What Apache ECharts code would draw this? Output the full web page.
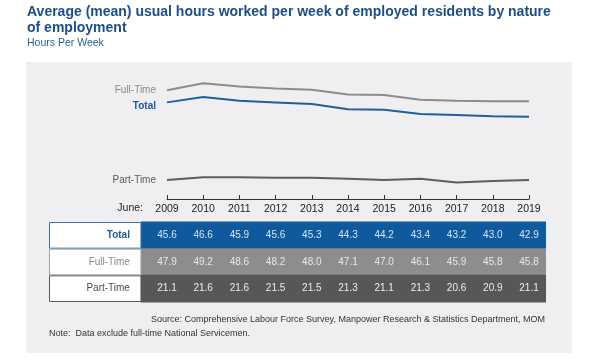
<!DOCTYPE html>
<html>
<head>
<meta charset="utf-8">
<script src="https://cdn.jsdelivr.net/npm/echarts@6/dist/echarts.min.js"></script>
<style>html,body{margin:0;padding:0;background:#fff;}#c{width:600px;height:360px;}</style>
</head>
<body>
<div id="c"></div>
<script>
const years = ['2009','2010','2011','2012','2013','2014','2015','2016','2017','2018','2019'];
const rowNames = ['Total','Full-Time','Part-Time'];
const totalHours = [45.6,46.6,45.9,45.6,45.3,44.3,44.2,43.4,43.2,43.0,42.9];
const fullTimeHours = [47.9,49.2,48.6,48.2,48.0,47.1,47.0,46.1,45.9,45.8,45.8];
const partTimeHours = [21.1,21.6,21.6,21.5,21.5,21.3,21.1,21.3,20.6,20.9,21.1];

const FONT = 'Liberation Sans';
const rowStyle = {
  'Total':     {bg:'#0f5a9c', txt:'#d3e4f4', border:'#3a74ad', label:'#1d5a96', weight:'bold'},
  'Full-Time': {bg:'#8d8d8d', txt:'#e8e8e8', border:'#a3a3a3', label:'#8a8a8a', weight:'normal'},
  'Part-Time': {bg:'#575757', txt:'#ececec', border:'#5a5a5a', label:'#4a4a4a', weight:'normal'}
};
const rowValues = [totalHours, fullTimeHours, partTimeHours];
const tableData = [];
rowValues.forEach((arr, r) => arr.forEach((v, i) => tableData.push([i, r, v])));

const chart = echarts.init(document.getElementById('c'));
chart.setOption({
  backgroundColor: '#ffffff',
  animation: false,
  textStyle: {fontFamily: FONT},
  title: [
    {text: 'Average (mean) usual hours worked per week of employed residents by nature\nof employment',
     left: 22, top: -1,
     textStyle: {fontFamily: FONT, fontSize: 14, fontWeight: 'bold', color: '#1c4f86', lineHeight: 16}},
    {text: 'Hours Per Week', left: 22, top: 33,
     textStyle: {fontFamily: FONT, fontSize: 10.5, fontWeight: 'normal', color: '#2b5f93'}}
  ],
  graphic: [
    {type: 'rect', z: -10, silent: true, shape: {x: 26, y: 62, width: 546, height: 291}, style: {fill: '#efeff1'}},
    {type: 'text', style: {text: 'Full-Time', x: 156, y: 90, align: 'right', verticalAlign: 'middle', fill: '#8a8a8a', font: '10px ' + FONT}},
    {type: 'text', style: {text: 'Total', x: 156, y: 106, align: 'right', verticalAlign: 'middle', fill: '#1d5a96', font: 'bold 10px ' + FONT}},
    {type: 'text', style: {text: 'Part-Time', x: 156, y: 180, align: 'right', verticalAlign: 'middle', fill: '#5a5a5a', font: '10px ' + FONT}},
    {type: 'text', style: {text: 'June:', x: 143, y: 208, align: 'right', verticalAlign: 'middle', fill: '#222', font: '10.5px ' + FONT}},
    {type: 'text', style: {text: 'Source: Comprehensive Labour Force Survey, Manpower Research & Statistics Department, MOM', x: 545, y: 320, align: 'right', verticalAlign: 'middle', fill: '#333', font: '9px ' + FONT}},
    {type: 'text', style: {text: 'Note:  Data exclude full-time National Servicemen.', x: 49, y: 334, align: 'left', verticalAlign: 'middle', fill: '#333', font: '9px ' + FONT}}
  ],
  grid: [
    {left: 167, right: 71, top: 70, bottom: 161},
    {left: 167, right: 71, top: 222, bottom: 58}
  ],
  xAxis: [
    {type: 'category', gridIndex: 0, data: years, boundaryGap: false,
     axisLine: {show: true, lineStyle: {color: '#333', width: 1}},
     axisTick: {show: true, inside: true, length: 4, lineStyle: {color: '#333'}},
     axisLabel: {show: true, color: '#222', fontSize: 10.5, fontFamily: FONT, margin: 5}},
    {type: 'category', gridIndex: 1, data: years, boundaryGap: false, show: false}
  ],
  yAxis: [
    {type: 'value', gridIndex: 0, min: 27.4, max: 51.7, show: false, splitLine: {show: false}},
    {type: 'value', gridIndex: 0, min: 17.5, max: 41.8, show: false, splitLine: {show: false}},
    {type: 'category', gridIndex: 1, data: rowNames, inverse: true, show: false}
  ],
  series: [
    {type: 'line', name: 'Full-Time', xAxisIndex: 0, yAxisIndex: 0, data: fullTimeHours, symbol: 'none',
     lineStyle: {color: '#8c8c8c', width: 2}},
    {type: 'line', name: 'Total', xAxisIndex: 0, yAxisIndex: 0, data: totalHours, symbol: 'none',
     lineStyle: {color: '#1e5f9e', width: 2}},
    {type: 'line', name: 'Part-Time', xAxisIndex: 0, yAxisIndex: 1, data: partTimeHours, symbol: 'none',
     lineStyle: {color: '#5e5e5e', width: 2}},
    {type: 'custom', xAxisIndex: 1, yAxisIndex: 2, data: tableData, clip: false,
     renderItem: function (params, api) {
       const xi = api.value(0), ri = api.value(1), v = api.value(2);
       const c = api.coord([xi, ri]);
       const w = api.coord([1, ri])[0] - api.coord([0, ri])[0];
       const h = api.size([0, 1])[1];
       const st = rowStyle[rowNames[ri]];
       const y0 = c[1] - h / 2;
       const children = [];
       if (xi === 0) {
         const x0 = c[0] - w * 0.72;
         const x1 = api.coord([years.length - 1, ri])[0] + w * 0.47;
         children.push({type: 'rect', z2: 0, shape: {x: x0, y: y0 - 0.5, width: x1 - x0, height: h + 1}, style: {fill: st.bg}});
         const lw = w * 2.54;
         children.push({type: 'rect', z2: 3, shape: {x: x0 - lw + 0.5, y: y0 + 0.5, width: lw - 0.5, height: h - 1}, style: {fill: '#ffffff', stroke: st.border, lineWidth: 1}});
         children.push({type: 'text', z2: 5, style: {text: rowNames[ri], x: x0 - 11, y: c[1], align: 'right', verticalAlign: 'middle', fill: st.label, font: st.weight + ' 10px ' + FONT}});
       }
       children.push({type: 'text', z2: 5, style: {text: v.toFixed(1), x: c[0], y: c[1], align: 'center', verticalAlign: 'middle', fill: st.txt, font: '10px ' + FONT}});
       return {type: 'group', children: children};
     }}
  ]
});
</script>
</body>
</html>
